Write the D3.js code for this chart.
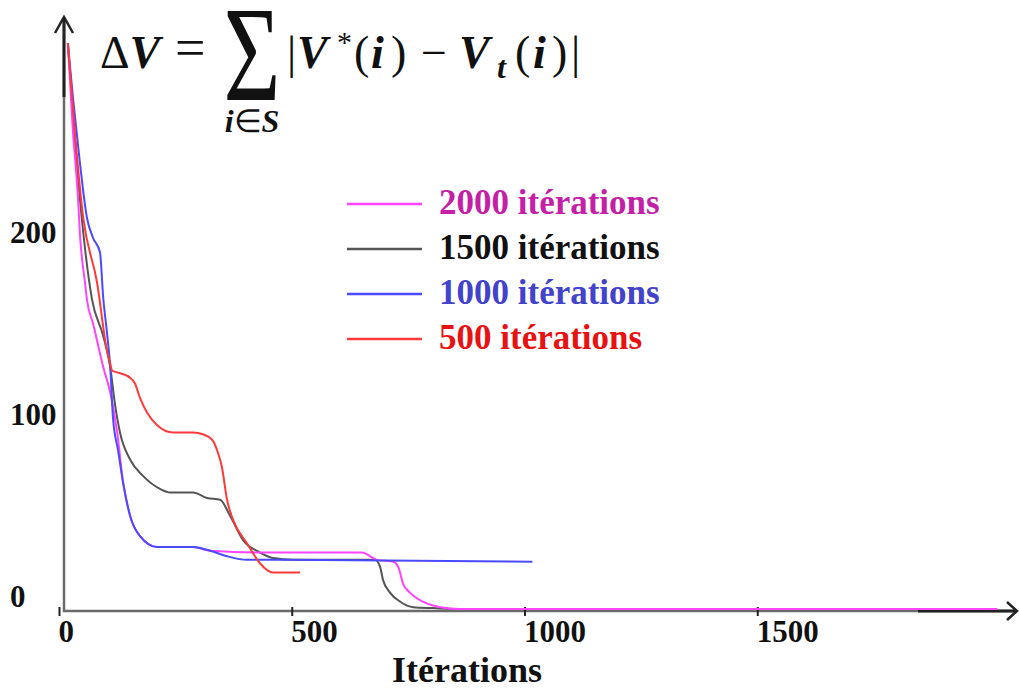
<!DOCTYPE html>
<html>
<head>
<meta charset="utf-8">
<script src="https://cdnjs.cloudflare.com/ajax/libs/d3/7.8.5/d3.min.js"></script>
<style>
    body { margin: 0; background: #fff; }
    svg { display: block; }
    text { font-family: "Liberation Serif", "Times New Roman", serif; font-weight: bold; }
</style>
</head>
<body>
<div id="container"></div>
<script>
// valeurs : [itération, ΔV]
var iter2000 = [[19, 311], [29, 266], [41, 225], [45, 206], [56, 179], [60, 170], [73, 157], [95, 133], [110, 119],
    [125, 97], [138, 69], [153, 51], [174, 40], [211, 34], [288, 34], [325, 32], [432, 31], [651, 31], [683, 27],
    [718, 26], [729, 23], [739, 14], [754, 9], [782, 4], [819, 1], [862, 0], [2016, 0]];
var iter1500 = [[19, 311], [45, 225], [71, 170], [95, 150], [110, 133], [120, 113], [131, 97], [153, 82], [181, 73],
    [217, 66], [239, 64], [288, 64], [318, 61], [346, 60], [368, 51], [395, 38], [432, 31], [460, 28], [503, 27],
    [679, 27], [690, 23], [696, 16], [711, 9], [733, 4], [761, 1], [804, 0.5], [862, 0], [1500, 0]];
var iter1000 = [[19, 311], [30, 281], [45, 245], [60, 215], [73, 204], [88, 196], [95, 171], [103, 152], [110, 133],
    [116, 105], [127, 87], [138, 69], [153, 51], [174, 40], [211, 34], [288, 34], [325, 32], [361, 29], [404, 27],
    [496, 27], [1017, 26]];
var iter500 = [[19, 311], [52, 215], [82, 179], [103, 142], [110, 135], [114, 131], [125, 130], [153, 127], [163, 124],
    [174, 116], [189, 108], [211, 101], [245, 97], [288, 97], [309, 96], [329, 93], [340, 87], [350, 78], [361, 60],
    [374, 49], [404, 36], [432, 25], [460, 20], [518, 20]];

var seriesNames = ['2000 itérations', '1500 itérations', '1000 itérations', '500 itérations'];
var xTicks = [0, 500, 1000, 1500];
var yTicks = [0, 100, 200];

var width = 1019,
    height = 688;

var lineColors = ['#ff44ff', '#555555', '#4a4aff', '#ff3a3a'];
var textColors = ['#c41fa6', '#111111', '#4242cc', '#e81212'];

var svg = d3.select("#container").append("svg")
    .attr("width", width)
    .attr("height", height);

var x = d3.scaleLinear().domain([0, 2000]).range([59, 990]);
var y = d3.scaleLinear().domain([0, 300]).range([609, 63]);

// axes avec flèches
var axes = svg.append('g').attr('stroke', '#6a6a6a').attr('fill', 'none').attr('stroke-width', 2.5);
axes.append('line').attr('x1', 64).attr('y1', 612).attr('x2', 64).attr('y2', 18);
axes.append('line').attr('x1', 63).attr('y1', 611).attr('x2', 1016).attr('y2', 611);
axes.append('line').attr('x1', 64).attr('y1', 18).attr('x2', 64).attr('y2', 97).attr('stroke', '#222').attr('stroke-width', 3);
axes.append('line').attr('x1', 918).attr('y1', 611).attr('x2', 1016).attr('y2', 611).attr('stroke', '#222').attr('stroke-width', 3);
axes.append('path').attr('d', 'M55,33L64,17L73,33').attr('stroke', '#222').attr('stroke-width', 2.5);
axes.append('path').attr('d', 'M1007,602L1017,611L1007,620').attr('stroke', '#222').attr('stroke-width', 2.5);

var xAxis = svg.append('g')
    .attr('transform', 'translate(0,611)')
    .call(d3.axisBottom(x).tickValues(xTicks).tickFormat(d3.format('d')).tickSizeInner(5).tickSizeOuter(0));
xAxis.select('.domain').remove();
xAxis.selectAll('line').attr('y1', -4).attr('y2', 5).attr('stroke', '#222').attr('stroke-width', 2);
xAxis.selectAll('text')
    .attr('text-anchor', 'start')
    .attr('y', 31).attr('dy', 0).attr('dx', -1)
    .attr('fill', '#111')
    .style('font-size', '31px');

var yAxis = svg.append('g')
    .attr('transform', 'translate(64,0)')
    .call(d3.axisLeft(y).tickValues(yTicks).tickFormat(d3.format('d')).tickSize(0));
yAxis.select('.domain').remove();
yAxis.selectAll('text')
    .attr('text-anchor', 'start')
    .attr('x', -54).attr('y', -12)
    .attr('fill', '#111')
    .style('font-size', '31px');

svg.append('text')
    .attr('x', 467).attr('y', 682)
    .attr('text-anchor', 'middle')
    .attr('fill', '#111')
    .style('font-size', '36px')
    .text('Itérations');

// courbes
var line = d3.line()
    .x(function (d) { return x(d[0]); })
    .y(function (d) { return y(d[1]); })
    .curve(d3.curveMonotoneX);

var allSeries = [iter1500, iter2000, iter1000, iter500];
var drawColors = [lineColors[1], lineColors[0], lineColors[2], lineColors[3]];
svg.append('g').selectAll('path')
    .data(allSeries)
    .enter().append('path')
    .attr('d', line)
    .attr('fill', 'none')
    .attr('stroke', function (d, i) { return drawColors[i]; })
    .attr('stroke-width', 2);

// légende
var legend = svg.append('g').selectAll('g')
    .data(seriesNames)
    .enter().append('g')
    .attr('transform', function (d, i) { return 'translate(0,' + (204 + 45 * i) + ')'; });
legend.append('line')
    .attr('x1', 347).attr('x2', 422)
    .attr('stroke', function (d, i) { return lineColors[i]; })
    .attr('stroke-width', 2.5);
legend.append('text')
    .attr('x', 439).attr('y', 10)
    .attr('fill', function (d, i) { return textColors[i]; })
    .style('font-size', '35px')
    .text(function (d) { return d; });

// formule
var f = svg.append('g').attr('fill', '#111');
var left = f.append('text').attr('y', 68).style('font-size', '46px');
left.append('tspan').attr('x', 100).style('font-weight', 'normal').text('Δ');
left.append('tspan').style('font-style', 'italic').text('V');
f.append('text').attr('x', 175).attr('y', 66).style('font-size', '54px').style('font-weight', 'normal').text('=');
f.append('text')
    .attr('transform', 'translate(252,100) scale(0.72,1)')
    .attr('text-anchor', 'middle')
    .style('font-size', '136px').style('font-weight', 'normal')
    .text('Σ');
var sub = f.append('text').attr('x', 252).attr('y', 132).attr('text-anchor', 'middle').style('font-size', '32px');
sub.append('tspan').style('font-style', 'italic').text('i');
sub.append('tspan').style('font-weight', 'normal').text('∈');
sub.append('tspan').style('font-style', 'italic').text('S');

var right = f.append('text').attr('y', 68).style('font-size', '46px');
var parts = [
    { t: '|', x: 287, n: true }, { t: 'V', x: 297, it: true }, { t: '*', x: 337, sup: true, n: true },
    { t: '(', x: 354, n: true }, { t: 'i', x: 371, it: true }, { t: ')', x: 391, n: true },
    { t: '−', x: 421, n: true }, { t: 'V', x: 459, it: true }, { t: 't', x: 497, sub: true, it: true },
    { t: '(', x: 515, n: true }, { t: 'i', x: 533, it: true }, { t: ')', x: 552, n: true }, { t: '|', x: 571, n: true }
];
parts.forEach(function (p) {
    right.append('tspan')
        .attr('x', p.x)
        .attr('y', p.sup ? 52 : (p.sub ? 78 : 68))
        .style('font-size', p.sup ? '30px' : (p.sub ? '32px' : '46px'))
        .style('font-weight', p.n ? 'normal' : 'bold')
        .style('font-style', p.it ? 'italic' : 'normal')
        .text(p.t);
});
</script>
</body>
</html>
